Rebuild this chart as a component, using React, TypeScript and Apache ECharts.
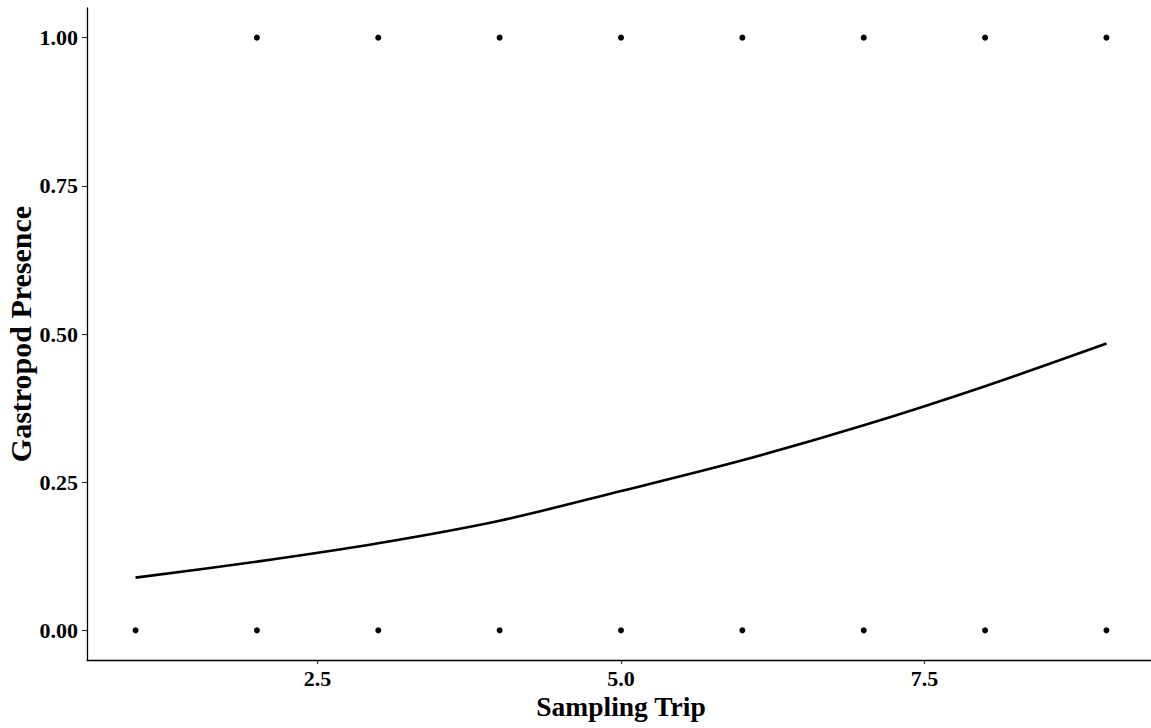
import React, { useEffect, useRef } from "react";
import * as echarts from "echarts";

// Sampling trips and fitted probability of gastropod presence (logistic fit)
const trips = [1, 2, 3, 4, 5, 6, 7, 8, 9];
const fittedPresence = [0.089, 0.116, 0.147, 0.185, 0.235, 0.287, 0.346, 0.412, 0.484];

// Observed presence (1) and absence (0) by sampling trip
const presentTrips = [2, 3, 4, 5, 6, 7, 8, 9];
const absentTrips = [1, 2, 3, 4, 5, 6, 7, 8, 9];

const xTicks = [2.5, 5.0, 7.5];
const yTicks = [0, 0.25, 0.5, 0.75, 1.0];

const xTitle = "Sampling Trip";
const yTitle = "Gastropod Presence";

const FONT = "'Liberation Serif', 'Times New Roman', serif";

export default function App() {
  const ref = useRef<HTMLDivElement>(null);

  useEffect(() => {
    if (!ref.current) return;
    const chart = echarts.init(ref.current, null, { renderer: "svg" });

    const observed = [
      ...presentTrips.map((t) => [t, 1]),
      ...absentTrips.map((t) => [t, 0]),
    ];
    const fitted = trips.map((t, i) => [t, fittedPresence[i]]);

    chart.setOption({
      animation: false,
      backgroundColor: "#ffffff",
      grid: {
        left: 87,
        right: 0,
        top: 8,
        bottom: 68,
        containLabel: false,
        outerBoundsMode: "none",
      },
      xAxis: {
        type: "value",
        min: 0.6,
        max: 9.4,
        name: xTitle,
        nameLocation: "middle",
        nameGap: 32,
        nameMoveOverlap: false,
        nameTextStyle: { fontFamily: FONT, fontWeight: "bold", fontSize: 27.5, color: "#000" },
        axisLine: { show: true, onZero: false, lineStyle: { color: "#000", width: 1.3 } },
        axisTick: { show: true, customValues: xTicks, length: 4, lineStyle: { color: "#333", width: 1.2 } },
        axisLabel: {
          customValues: xTicks,
          formatter: (v: number) => v.toFixed(1),
          fontFamily: FONT,
          fontWeight: "bold",
          fontSize: 22,
          color: "#000",
          margin: 7,
        },
        splitLine: { show: false },
      },
      yAxis: {
        type: "value",
        min: -0.05,
        max: 1.05,
        name: yTitle,
        nameLocation: "middle",
        nameGap: 52,
        nameMoveOverlap: false,
        nameTextStyle: { fontFamily: FONT, fontWeight: "bold", fontSize: 30, color: "#000" },
        axisLine: { show: true, onZero: false, lineStyle: { color: "#000", width: 1.3 } },
        axisTick: { show: true, customValues: yTicks, length: 5, lineStyle: { color: "#333", width: 1.2 } },
        axisLabel: {
          customValues: yTicks,
          formatter: (v: number) => v.toFixed(2),
          fontFamily: FONT,
          fontWeight: "bold",
          fontSize: 22,
          color: "#000",
          margin: 9,
        },
        splitLine: { show: false },
      },
      series: [
        {
          type: "scatter",
          data: observed,
          symbol: "circle",
          symbolSize: 6,
          itemStyle: { color: "#000", opacity: 1 },
        },
        {
          type: "line",
          data: fitted,
          smooth: 0.3,
          showSymbol: false,
          lineStyle: { color: "#000", width: 2.6 },
        },
      ],
    });

    return () => chart.dispose();
  }, []);

  return (
    <div style={{ position: "absolute", left: 0, top: 0, width: 1151, height: 728, overflow: "hidden", background: "#fff" }}>
      <div ref={ref} style={{ width: 1155, height: 728 }} />
    </div>
  );
}
